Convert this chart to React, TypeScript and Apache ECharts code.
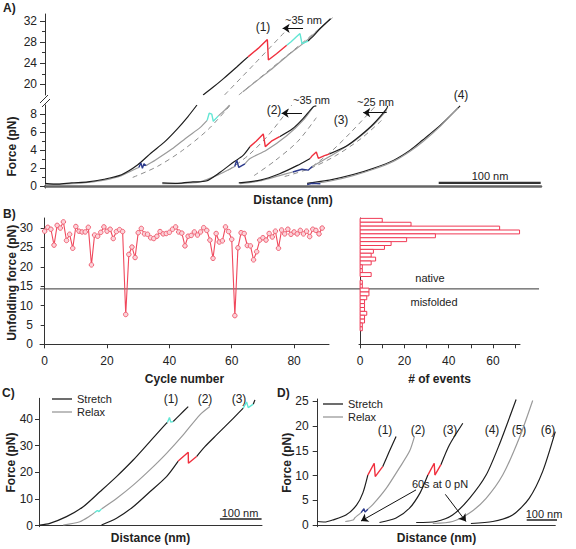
import React, { useEffect, useRef } from 'react';
import * as echarts from 'echarts';

const FONT = '"Liberation Sans", Arial, sans-serif';
const BLACK = '#1e1e1e';
const GREY = '#9a9a9a';
const RED = '#f0303e';
const CYAN = '#62e6d4';
const BLUE = '#2c3a8c';
const DASH = '#8c8c8c';

// ---------- Panel A : distance (nm) vs force (pN) ----------
const a1StretchLow = [[0,0.35],[13,0.25],[26,0.4],[42,0.5],[58,0.8],[75,1.3],[91,2.4],[104,3.7],[117,4.9],[130,6.4],[140,7.7],[149,9.0]];
const a1RelaxLowA = [[0,0.25],[26,0.3],[42,0.45],[58,0.7],[75,1.2],[88,1.9],[92,2.1]];
const a1RelaxLowBlue = [[92,2.1],[94,2.6],[95.5,2.0],[97,2.5],[99,2.3]];
const a1RelaxLowB = [[99,2.3],[108,2.9],[124,4.1],[140,5.5],[152,6.5],[159,7.3]];
const a1RelaxLowCyan = [[159,7.3],[161,8.1],[163.5,8.0],[165,7.2],[170,7.8]];
const a1RelaxLowC = [[170,7.8],[176,8.4],[181,9.0]];
const a1FitLow = [[86,1.0],[110,2.2],[135,4.0],[160,6.3],[181,8.9]];

const a1StretchUpA = [[155,18.0],[165,19.5],[175,21.1],[188,23.3],[199,25.2]];
const a1StretchUpRed = [[199,25.2],[209,26.8],[218,28.5],[219,24.6],[227,25.8],[237,27.4]];
const a1StretchUpCyan = [[237,27.4],[241,28.0],[246,28.9],[250,29.6],[252,27.7],[258,28.2]];
const a1StretchUpB = [[258,28.2],[264,29.3],[270,30.6],[280,32.4]];
const a1RelaxUp = [[194,18.6],[207,20.6],[221,22.7],[240,25.8],[253,27.7],[270,30.6],[280,32.4]];
const a1FitUpA = [[176,18.0],[206,24.0],[237,30.3]];
const a1FitUpB = [[190,18.0],[237,25.4],[282,32.6]];
const a1Arrow = [[253,30.6],[233,30.6]];

const a2StretchA = [[115,0.4],[130,0.35],[145,0.5],[158,0.6],[172,1.6],[185,2.7],[194,3.4],[201,4.4]];
const a2StretchRed = [[201,4.4],[207,5.0],[214,5.8],[216,4.4],[222,5.0],[230,5.5]];
const a2StretchB = [[230,5.5],[243,6.4],[253,7.5],[263,8.8],[266,8.9]];
const a2RelaxA = [[115,0.3],[135,0.35],[152,0.5],[172,1.4],[186,2.2]];
const a2RelaxBlue = [[186,2.2],[188,2.9],[190,2.1],[196,2.5]];
const a2RelaxB = [[196,2.5],[201,3.1],[217,4.0],[237,5.6],[253,7.3],[263,8.8]];
const a2FitA = [[180,1.8],[200,3.5],[220,5.8],[242,9.0]];
const a2FitB = [[205,1.2],[225,2.8],[248,5.0],[266,7.6]];
const a2Arrow = [[252,8.1],[232,8.1]];

const a3StretchA = [[190,0.4],[211,0.7],[230,1.4],[247,2.3],[260,3.1]];
const a3StretchRed = [[260,3.1],[262,3.4],[266,3.8],[268,3.1],[274,3.4],[279,3.6]];
const a3StretchB = [[279,3.6],[296,4.5],[309,5.6],[322,6.9],[335,8.6],[336,8.9]];
const a3RelaxA = [[191,0.3],[210,0.6],[230,1.2],[243,1.6]];
const a3RelaxBlue = [[243,1.6],[252,1.9],[258,1.8],[262,2.2]];
const a3RelaxB = [[262,2.2],[279,3.3],[302,4.9],[322,6.8],[335,8.4]];
const a3FitA = [[262,2.2],[280,3.8],[300,6.0],[325,9.0]];
const a3FitB = [[235,1.1],[260,2.0],[285,3.4],[310,5.3],[330,7.3]];
const a3Arrow = [[335,8.15],[312,8.15]];

const a4Stretch = [[257,0.35],[260,0.4],[279,0.7],[302,1.3],[322,2.0],[342,2.9],[358,4.0],[370,5.1],[388,6.8],[407,8.9]];
const a4Relax = [[262,0.3],[280,0.6],[302,1.2],[322,1.9],[342,2.8],[358,3.9],[371,5.0],[388,6.7],[405,8.7]];
const a4RelaxBlue = [[257,0.2],[262,0.35],[270,0.3]];
const aScaleBar = [[386,0.4],[486,0.4]];

// ---------- Panel B ----------
const unfoldForce = [
  29.2,30.2,29.7,25.6,30.7,30.0,31.6,26.8,28.4,24.8,
  30.4,29.2,29.0,29.0,30.2,20.5,28.2,27.9,28.9,30.3,
  29.2,29.7,27.3,29.1,29.6,29.1,7.7,23.2,25.1,22.4,
  28.8,29.9,28.5,28.4,27.5,27.3,27.9,29.1,28.5,28.6,
  28.9,29.7,30.3,29.0,28.7,25.4,27.9,28.1,29.0,28.2,
  29.0,30.1,29.4,26.9,22.2,28.6,26.4,26.7,30.3,29.1,
  27.1,7.4,24.9,28.8,28.6,25.5,25.4,21.8,23.9,26.9,
  27.5,26.9,28.6,27.7,29.2,24.8,29.5,28.5,29.7,28.4,
  29.0,28.5,29.4,28.5,29.2,27.8,29.7,29.4,28.5,30.0
];
const histForce = [32,31,30,29,28,27,26,25,24,23,22,21,20,19,18,17,16,15,14,13,12,11,10,9,8,7,6,5,4];
const histCount = [10,23,63,72,34,21,14,11,6,5,7,5,1,1,5,0,1,1,4,4,3,2,2,2,3,2,2,1,1];
const threshold = 14.3;

// ---------- Panel C ----------
const c1Stretch = [[2,0.26],[26,0.9],[66,3.4],[106,7.1],[146,12.7],[186,18.4],[226,24.6],[266,31.5],[306,38.4],[308,38.6]];
const c1StretchCyan = [[308,38.6],[313,40.5],[316,38.8],[322,39.0]];
const c1StretchB = [[322,39.0],[338,41.5],[358,44.6]];
const c2Relax = [[58,0.26],[98,1.5],[122,3.6],[134,5.0]];
const c2RelaxCyan = [[134,5.0],[140,5.7],[144,5.3],[150,6.3]];
const c2RelaxB = [[150,6.3],[186,10.2],[226,15.2],[266,20.9],[306,27.1],[346,34.0],[386,41.5],[410,44.6]];
const c3Stretch = [[150,0.26],[186,2.8],[226,7.1],[266,12.7],[306,18.4],[334,24.2]];
const c3StretchRed = [[334,24.2],[358,27.5],[358.5,23.4],[378,25.9]];
const c3StretchB = [[378,25.9],[398,29.6],[426,34.0],[466,40.2],[490,44.0]];
const c3StretchCyan = [[490,44.0],[498,46.3],[502,44.2],[514,45.5]];
const c3StretchC = [[514,45.5],[518,47.1]];
const cScaleBar = [[434,2.5],[534,2.5]];

// ---------- Panel D ----------
const d1Stretch = [[0,0.7],[20,0.6],[42,1.0],[80,2.0],[110,4.0],[128,6.5],[142,10.1]];
const d1StretchRed = [[142,10.1],[160,12.5],[163,9.8],[184,11.8]];
const d1StretchB = [[184,11.8],[203,14.9],[222,17.9]];
const d2Relax = [[78,0.7],[100,1.0],[106,1.5],[123,2.5]];
const d2RelaxBlue = [[123,2.5],[131,3.3],[134,2.6],[142,3.2]];
const d2RelaxB = [[142,3.2],[156,4.1],[194,7.4],[231,11.5],[260,14.9],[274,17.9]];
const d3Stretch = [[175,0.5],[222,1.4],[260,3.4],[290,6.5],[312,10.1]];
const d3StretchRed = [[312,10.1],[330,12.5],[332,10.1],[349,12.2]];
const d3StretchB = [[349,12.2],[373,16.2],[411,20.6]];
const d4Stretch = [[279,0.5],[335,0.7],[382,2.0],[430,5.4],[477,10.1],[514,16.2],[562,25.4]];
const d5Relax = [[326,0.3],[382,0.7],[430,2.4],[477,5.4],[524,10.1],[571,17.6],[609,25.2]];
const d6Stretch = [[434,0.3],[496,0.7],[552,2.0],[599,5.4],[637,10.8],[673,18.9]];
const dScaleBar = [[592,1.0],[692,1.0]];
const dArrowA = [[278.5,7.1],[122.7,0.8]];
const dArrowB = [[361.5,6.2],[420,0.7]];

// ---------- helpers ----------
const ln = (data: number[][], xi: number, yi: number, color: string, extra: any = {}) => ({
  type: 'line', xAxisIndex: xi, yAxisIndex: yi, data, symbol: 'none', showSymbol: false,
  silent: true, animation: false, lineStyle: { color, width: 1.2 }, z: 3, ...extra,
});
const curve = (data: number[][], xi: number, yi: number, color: string) =>
  ln(data, xi, yi, color, { smooth: 0.25 });
const event = (data: number[][], xi: number, yi: number, color: string) =>
  ln(data, xi, yi, color, { z: 5, lineStyle: { color, width: 1.4 } });
const fit = (data: number[][], xi: number, yi: number) =>
  ln(data, xi, yi, DASH, { smooth: 0.3, z: 1, lineStyle: { color: DASH, width: 1, type: [5, 4] } });
const arrowLines = (pairs: number[][][]) => ({
  silent: true, animation: false, symbol: ['none', 'arrow'], symbolSize: 7,
  label: { show: false }, lineStyle: { color: '#111', width: 1, type: 'solid' },
  emphasis: { disabled: true },
  data: pairs.map((p) => [{ coord: p[0] }, { coord: p[1] }]),
});

const axisLbl = (vals: number[], margin = 7) => ({
  customValues: vals, color: '#222', fontSize: 12, fontFamily: FONT, margin,
});
const axisTk = (vals: number[], length = 4) => ({ customValues: vals, length, lineStyle: { color: '#333' } });
const nameStyle = { fontSize: 12, fontWeight: 'bold', color: '#222', fontFamily: FONT };
const aLine = { lineStyle: { color: '#333', width: 1 } };

const txt = (text: string, x: number, y: number, o: any = {}) => ({
  type: 'text', x, y, silent: true,
  style: { text, fill: '#222', fontSize: 12, fontFamily: FONT, align: 'center', verticalAlign: 'middle', ...o },
});
const gline = (x1: number, y1: number, x2: number, y2: number, stroke = '#222', lineWidth = 1.2) => ({
  type: 'line', silent: true, shape: { x1, y1, x2, y2 }, style: { stroke, lineWidth },
});

export default function App() {
  const ref = useRef<HTMLDivElement>(null);
  useEffect(() => {
    const chart = echarts.init(ref.current!, null, { renderer: 'svg' });
    const gridBase = { containLabel: false, outerBoundsMode: 'none' } as any;
    const grid = [
      { ...gridBase, left: 45, right: 35, top: 14, bottom: 454 },
      { ...gridBase, left: 45, right: 35, top: 105, bottom: 361 },
      { ...gridBase, left: 40, right: 247, top: 218, bottom: 201.3 },
      { ...gridBase, left: 359, right: 56, top: 218, bottom: 201.3 },
      { ...gridBase, left: 39, right: 314, top: 398.3, bottom: 22.3 },
      { ...gridBase, left: 317.7, right: 20.7, top: 399, bottom: 22.3 },
    ];
    const hidden = { show: false };
    const noMove = { nameMoveOverlap: false };
    const xAxis: any[] = [
      { type: 'value', gridIndex: 0, min: 0, max: 486.3, show: false },
      { type: 'value', gridIndex: 1, min: 0, max: 486.3, axisLine: { lineStyle: { color: '#666', width: 2.5 } },
        axisTick: hidden, axisLabel: hidden, splitLine: hidden, ...noMove,
        name: 'Distance (nm)', nameLocation: 'middle', nameGap: 6, nameTextStyle: { ...nameStyle, verticalAlign: 'top' } },
      { type: 'value', gridIndex: 2, min: -1.5, max: 91.2, axisLine: aLine, splitLine: hidden, ...noMove,
        axisTick: axisTk([0, 20, 40, 60, 80]), axisLabel: axisLbl([0, 20, 40, 60, 80]),
        name: 'Cycle number', nameLocation: 'middle', nameGap: 25, nameTextStyle: { ...nameStyle, verticalAlign: 'top' } },
      { type: 'value', gridIndex: 3, min: -0.5, max: 72.2, axisLine: aLine, splitLine: hidden, ...noMove,
        axisTick: axisTk([0, 10, 20, 30, 40, 50, 60, 70]), axisLabel: axisLbl([0, 20, 40, 60]),
        name: '# of events', nameLocation: 'middle', nameGap: 25, nameTextStyle: { ...nameStyle, verticalAlign: 'top' } },
      { type: 'value', gridIndex: 4, min: 0, max: 535, axisLine: aLine, axisTick: hidden, axisLabel: hidden, splitLine: hidden, ...noMove,
        name: 'Distance (nm)', nameLocation: 'middle', nameGap: 5, nameTextStyle: { ...nameStyle, verticalAlign: 'top' } },
      { type: 'value', gridIndex: 5, min: 0, max: 673, axisLine: aLine, axisTick: hidden, axisLabel: hidden, splitLine: hidden, ...noMove,
        name: 'Distance (nm)', nameLocation: 'middle', nameGap: 5, nameTextStyle: { ...nameStyle, verticalAlign: 'top' } },
    ];
    const yAxis: any[] = [
      { type: 'value', gridIndex: 0, position: 'left', min: 18, max: 33.3, axisLine: aLine, splitLine: hidden,
        axisTick: axisTk([20, 24, 28, 32], 5), axisLabel: axisLbl([20, 24, 28, 32], 8) },
      { type: 'value', gridIndex: 0, position: 'left', min: 18, max: 33.3, axisLine: hidden, splitLine: hidden,
        axisTick: axisTk([22, 26, 30], 3), axisLabel: hidden },
      { type: 'value', gridIndex: 1, position: 'left', min: -0.17, max: 9.0, axisLine: aLine, splitLine: hidden, ...noMove,
        axisTick: axisTk([0, 2, 4, 6, 8], 5), axisLabel: axisLbl([0, 2, 4, 6, 8], 8),
        name: 'Force (pN)', nameLocation: 'middle', nameGap: 27, nameRotate: 90, nameTextStyle: nameStyle },
      { type: 'value', gridIndex: 1, position: 'left', min: -0.17, max: 9.0, axisLine: hidden, splitLine: hidden,
        axisTick: axisTk([1, 3, 5, 7], 3), axisLabel: hidden },
      { type: 'value', gridIndex: 2, position: 'left', min: -0.88, max: 32.6, axisLine: aLine, splitLine: hidden, ...noMove,
        axisTick: axisTk([0, 5, 10, 15, 20, 25, 30], 4), axisLabel: axisLbl([0, 5, 10, 15, 20, 25, 30], 7),
        name: 'Unfolding force (pN)', nameLocation: 'middle', nameGap: 22, nameRotate: 90, nameTextStyle: nameStyle },
      { type: 'value', gridIndex: 3, position: 'left', min: -0.88, max: 32.6, axisLine: aLine, splitLine: hidden,
        axisTick: hidden, axisLabel: hidden },
      { type: 'value', gridIndex: 4, position: 'left', min: -0.37, max: 47.7, axisLine: aLine, splitLine: hidden, ...noMove,
        axisTick: axisTk([0, 10, 20, 30, 40], 4), axisLabel: axisLbl([0, 10, 20, 30, 40], 6),
        name: 'Force (pN)', nameLocation: 'middle', nameGap: 22, nameRotate: 90, nameTextStyle: nameStyle },
      { type: 'value', gridIndex: 5, position: 'left', min: -0.35, max: 25.5, axisLine: aLine, splitLine: hidden, ...noMove,
        axisTick: axisTk([0, 5, 10, 15, 20, 25], 5), axisLabel: axisLbl([0, 5, 10, 15, 20, 25], 9),
        name: 'Force (pN)', nameLocation: 'middle', nameGap: 25, nameRotate: 90, nameTextStyle: nameStyle },
    ];

    const series: any[] = [
      // A upper (x0,y0)
      fit(a1FitUpA, 0, 0), fit(a1FitUpB, 0, 0),
      { ...curve(a1RelaxUp, 0, 0, GREY), markLine: arrowLines([a1Arrow]) },
      curve(a1StretchUpA, 0, 0, BLACK), event(a1StretchUpRed, 0, 0, RED),
      event(a1StretchUpCyan, 0, 0, CYAN), curve(a1StretchUpB, 0, 0, BLACK),
      // A lower (x1,y2)
      fit(a1FitLow, 1, 2), fit(a2FitA, 1, 2), fit(a2FitB, 1, 2), fit(a3FitA, 1, 2), fit(a3FitB, 1, 2),
      curve(a1RelaxLowA, 1, 2, GREY), event(a1RelaxLowBlue, 1, 2, BLUE), curve(a1RelaxLowB, 1, 2, GREY),
      event(a1RelaxLowCyan, 1, 2, CYAN), curve(a1RelaxLowC, 1, 2, GREY), curve(a1StretchLow, 1, 2, BLACK),
      curve(a2RelaxA, 1, 2, GREY), event(a2RelaxBlue, 1, 2, BLUE), curve(a2RelaxB, 1, 2, GREY),
      curve(a2StretchA, 1, 2, BLACK), event(a2StretchRed, 1, 2, RED), curve(a2StretchB, 1, 2, BLACK),
      curve(a3RelaxA, 1, 2, GREY), event(a3RelaxBlue, 1, 2, BLUE), curve(a3RelaxB, 1, 2, GREY),
      curve(a3StretchA, 1, 2, BLACK), event(a3StretchRed, 1, 2, RED), curve(a3StretchB, 1, 2, BLACK),
      curve(a4Stretch, 1, 2, BLACK), curve(a4Relax, 1, 2, GREY), event(a4RelaxBlue, 1, 2, BLUE),
      { ...ln(aScaleBar, 1, 2, '#222', { lineStyle: { color: '#333', width: 2.2 } }),
        markLine: arrowLines([a2Arrow, a3Arrow]) },
      // B line
      {
        type: 'line', xAxisIndex: 2, yAxisIndex: 4, silent: true, animation: false,
        data: unfoldForce.map((v, i) => [i, v]),
        symbol: 'circle', symbolSize: 4.5, showSymbol: true,
        lineStyle: { color: '#f0485c', width: 1.1 },
        itemStyle: { color: '#fcd2d9', borderColor: '#f06274', borderWidth: 1 },
      },
      // B histogram
      {
        type: 'custom', xAxisIndex: 3, yAxisIndex: 5, silent: true, animation: false,
        data: histForce.map((f, i) => [f, histCount[i]]).filter((d) => d[1] > 0),
        encode: { x: 1, y: 0 },
        renderItem: (_p: any, api: any) => {
          const f = api.value(0), n = api.value(1);
          const p0 = api.coord([0, f + 0.5]);
          const p1 = api.coord([n, f - 0.5]);
          return {
            type: 'rect',
            shape: { x: p0[0], y: p0[1], width: p1[0] - p0[0], height: p1[1] - p0[1] },
            style: { fill: '#ffffff', stroke: '#f03a55', lineWidth: 1 },
          };
        },
      },
      // C (x4,y6)
      curve(c1Stretch, 4, 6, BLACK), event(c1StretchCyan, 4, 6, CYAN), curve(c1StretchB, 4, 6, BLACK),
      curve(c2Relax, 4, 6, GREY), event(c2RelaxCyan, 4, 6, CYAN), curve(c2RelaxB, 4, 6, GREY),
      curve(c3Stretch, 4, 6, BLACK), event(c3StretchRed, 4, 6, RED), curve(c3StretchB, 4, 6, BLACK),
      event(c3StretchCyan, 4, 6, CYAN), curve(c3StretchC, 4, 6, BLACK),
      ln(cScaleBar, 4, 6, '#222', { lineStyle: { color: '#222', width: 1.6 } }),
      // D (x5,y7)
      curve(d1Stretch, 5, 7, BLACK), event(d1StretchRed, 5, 7, RED), curve(d1StretchB, 5, 7, BLACK),
      curve(d2Relax, 5, 7, GREY), event(d2RelaxBlue, 5, 7, BLUE), curve(d2RelaxB, 5, 7, GREY),
      curve(d3Stretch, 5, 7, BLACK), event(d3StretchRed, 5, 7, RED), curve(d3StretchB, 5, 7, BLACK),
      curve(d4Stretch, 5, 7, BLACK), curve(d5Relax, 5, 7, GREY), curve(d6Stretch, 5, 7, BLACK),
      { ...ln(dScaleBar, 5, 7, '#222', { clip: false, lineStyle: { color: '#222', width: 1.6 } }),
        markLine: arrowLines([dArrowA, dArrowB]) },
    ];

    const bold = { fontWeight: 'bold', fontSize: 12, align: 'left' };
    const small = { fontSize: 11 };
    const graphic: any[] = [
      txt('A)', 3, 8, bold), txt('B)', 3, 214, bold), txt('C)', 2, 393, bold), txt('D)', 277, 393, bold),
      gline(40, 103, 48, 95, '#333', 1), gline(42, 107, 50, 99, '#333', 1),
      txt('(1)', 263, 27), txt('~35 nm', 285, 20, { ...small, align: 'left' }),
      txt('(2)', 274, 110), txt('~35 nm', 293, 100, { ...small, align: 'left' }),
      txt('(3)', 341, 120), txt('~25 nm', 357, 102, { ...small, align: 'left' }),
      txt('(4)', 461, 95), txt('100 nm', 490, 176, small),
      txt('native', 430, 278, small), txt('misfolded', 434, 302, small),
      gline(52, 399, 72, 399, BLACK, 1.3), gline(52, 412, 72, 412, GREY, 1.3),
      txt('Stretch', 77, 399, { ...small, align: 'left' }), txt('Relax', 77, 412, { ...small, align: 'left' }),
      txt('(1)', 171, 399), txt('(2)', 205, 399), txt('(3)', 239, 399), txt('100 nm', 240, 513, small),
      gline(323, 404, 343, 404, BLACK, 1.3), gline(323, 417, 343, 417, GREY, 1.3),
      txt('Stretch', 348, 404, { ...small, align: 'left' }), txt('Relax', 348, 417, { ...small, align: 'left' }),
      txt('(1)', 385, 430), txt('(2)', 418, 430), txt('(3)', 450, 430), txt('(4)', 492, 430),
      txt('(5)', 519, 430), txt('(6)', 548, 430),
      txt('100 nm', 544, 514, small), txt('60s at 0 pN', 440, 484, small),
    ];

    chart.setOption({
      animation: false,
      textStyle: { fontFamily: FONT },
      grid, xAxis, yAxis, series, graphic,
    });

    const p1 = chart.convertToPixel({ xAxisIndex: 2, yAxisIndex: 4 }, [-1.5, threshold]) as number[];
    const p2 = chart.convertToPixel({ xAxisIndex: 3, yAxisIndex: 5 }, [80.8, threshold]) as number[];
    chart.setOption({ graphic: [...graphic, gline(p1[0], p1[1], p2[0], p2[1], '#333', 1)] });

    return () => chart.dispose();
  }, []);
  return <div ref={ref} style={{ position: 'fixed', left: 0, top: 0, width: 576, height: 549, background: '#fff' }} />;
}
